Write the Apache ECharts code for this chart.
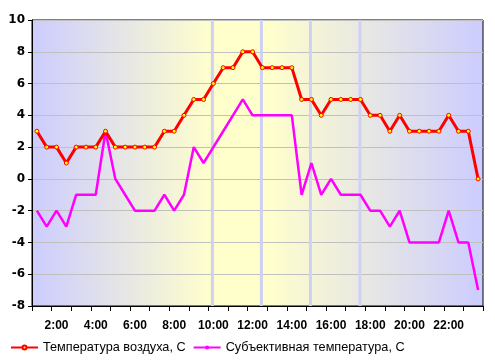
<!DOCTYPE html>
<html>
<head>
<meta charset="utf-8">
<script src="https://cdn.jsdelivr.net/npm/echarts@6/dist/echarts.min.js"></script>
<style>
html,body{margin:0;padding:0;background:#fff;}
#chart{width:495px;height:362px;}
</style>
</head>
<body>
<div id="chart"></div>
<script>
var categories = ['1:00','1:30','2:00','2:30','3:00','3:30','4:00','4:30','5:00','5:30',
  '6:00','6:30','7:00','7:30','8:00','8:30','9:00','9:30','10:00','10:30',
  '11:00','11:30','12:00','12:30','13:00','13:30','14:00','14:30','15:00','15:30',
  '16:00','16:30','17:00','17:30','18:00','18:30','19:00','19:30','20:00','20:30',
  '21:00','21:30','22:00','22:30','23:00','23:30'];
var airTemp = [3,2,2,1,2,2,2,3,2,2,
  2,2,2,3,3,4,5,5,6,7,
  7,8,8,7,7,7,7,5,5,4,
  5,5,5,5,4,4,3,4,3,3,
  3,3,4,3,3,0];
var feltTemp = [-2,-3,-2,-3,-1,-1,-1,3,0,-1,
  -2,-2,-2,-1,-2,-1,2,1,2,3,
  4,5,4,4,4,4,4,-1,1,-1,
  0,-1,-1,-1,-2,-2,-3,-2,-4,-4,
  -4,-4,-2,-4,-4,-7];
var markerPositions = [18.4, 23.4, 28.4, 33.45];
var yTicks = [-8, 10];
var seriesNames = ['Температура воздуха, С', 'Субъективная температура, С'];

var chart = echarts.init(document.getElementById('chart'), null, {renderer:'canvas'});
var font = 'Arial, "Liberation Sans", sans-serif';

var vlineSeries = markerPositions.map(function (p, k) {
  return {
    type: 'line', name: 'vline' + k, xAxisIndex: 1, z: 1, silent: true,
    symbol: 'none', data: [[p, yTicks[0]], [p, yTicks[1]]],
    lineStyle: {color: '#d0d0f6', width: 3}
  };
});

chart.setOption({
  animation: false,
  backgroundColor: '#ffffff',
  grid: {
    left: 32, right: 12, top: 20, bottom: 56,
    show: true,
    borderColor: '#000000', borderWidth: 1,
    backgroundColor: new echarts.graphic.LinearGradient(0, 0, 1, 0, [
      {offset: 0, color: '#ccccff'},
      {offset: 0.4, color: '#ffffcc'},
      {offset: 0.52, color: '#ffffcc'},
      {offset: 1, color: '#ccccff'}
    ])
  },
  legend: {
    left: 10, top: 341, padding: 0,
    itemWidth: 27, itemHeight: 5, itemGap: 7,
    textStyle: {fontFamily: font, fontSize: 12.7, color: '#000'},
    data: seriesNames
  },
  xAxis: [{
    type: 'category',
    data: categories,
    boundaryGap: true,
    axisLine: {show: true, onZero: false, lineStyle: {color: '#000', width: 1}},
    axisTick: {show: true, interval: 1, length: 5, lineStyle: {color: '#000'}},
    axisLabel: {
      interval: function (i) { return i % 4 === 2; },
      margin: 14,
      fontFamily: font, fontSize: 12, fontWeight: 'bold', color: '#000'
    },
    splitLine: {show: false}
  }, {
    type: 'value', min: 0, max: categories.length, show: false
  }],
  yAxis: {
    type: 'value', min: yTicks[0], max: yTicks[1], interval: 2,
    axisLine: {show: true, lineStyle: {color: '#000', width: 1}},
    axisTick: {show: true, length: 4, lineStyle: {color: '#000'}},
    axisLabel: {margin: 7, fontFamily: '"DejaVu Sans", sans-serif', fontSize: 12, fontWeight: 'bold', color: '#000'},
    splitLine: {show: true, lineStyle: {color: '#c0c0c0', width: 1}}
  },
  series: vlineSeries.concat([{
    type: 'line', name: seriesNames[1], data: feltTemp, z: 3,
    symbol: 'none', showSymbol: false,
    lineStyle: {color: '#ff00ff', width: 2.5},
    itemStyle: {color: '#ff00ff'}
  }, {
    type: 'line', name: seriesNames[0], data: airTemp, z: 4,
    symbol: 'circle', symbolSize: 4, showSymbol: true,
    lineStyle: {color: '#ff0000', width: 3},
    itemStyle: {color: '#ffff00', borderColor: '#ff0000', borderWidth: 1}
  }])
});
</script>
</body>
</html>
